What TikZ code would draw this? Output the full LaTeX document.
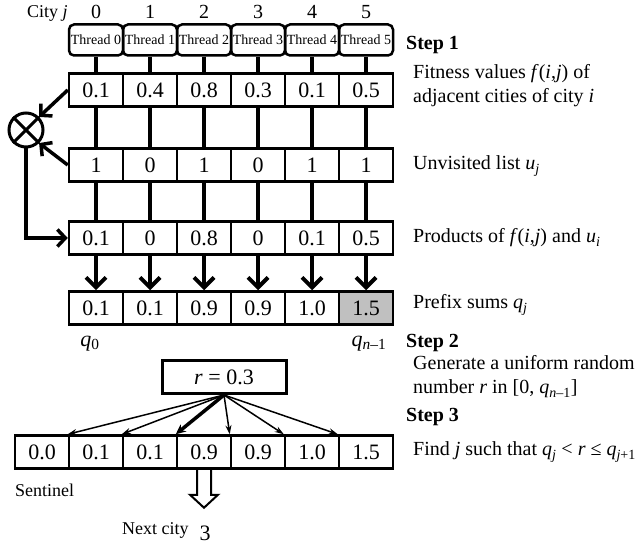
\documentclass[tikz,border=0pt]{standalone}
\usepackage{fontspec}
\setmainfont{Liberation Serif}
\usepackage{tikz}
\usetikzlibrary{positioning,arrows.meta}
\definecolor{lastcell}{RGB}{192, 192, 192}
\newcommand{\qv}[1]{\textit{q}\textsubscript{#1}}
\newcommand{\fij}{\textit{f}(\textit{i},\textit{j})}
\tikzset{
  cell/.style={draw, line width=2.5pt, minimum width=54pt, minimum height=33pt, inner sep=0pt, font=\fontsize{22}{24}\selectfont},
  thread/.style={draw, line width=2.5pt, rounded corners=5pt, minimum width=54pt, minimum height=31pt, inner sep=0pt, font=\fontsize{14}{15}\selectfont},
  link/.style={line width=4pt},
  bigarrow/.style={line width=4pt, -{Straight Barb[length=10pt,width=20pt]}},
  sidearrow/.style={line width=3.5pt, -{Straight Barb[length=8pt,width=17pt]}},
  fan/.style={line width=1.5pt, -{Stealth[length=9pt,width=6pt]}},
  fanbold/.style={line width=3.5pt, -{Stealth[length=10pt,width=9pt]}},
  desc/.style={anchor=west, inner sep=0pt, align=left, font=\fontsize{20}{24}\selectfont},
  small/.style={inner sep=0pt, font=\fontsize{18}{20}\selectfont},
}

\begin{document}
\begin{tikzpicture}[x=1pt, y=-1pt]
        \useasboundingbox (0,0) rectangle (638,548);

        % columns and threads
        \node[small, anchor=west] (cityj) at (27,13) {City \textit{j}};
        \foreach \k in {0,...,5} {
            \node[inner sep=0pt, font=\fontsize{20}{22}\selectfont] (c\k) at ({96+54*\k},12) {\k};
            \node[thread] (t\k) at ({96+54*\k},40) {Thread \k};
        }

        \foreach \val [count=\k from 0] in {0.1,0.4,0.8,0.3,0.1,0.5}
            \node[cell] (f\k) at ({96+54*\k},90) {\val};
        \foreach \val [count=\k from 0] in {1,0,1,0,1,1}
            \node[cell] (u\k) at ({96+54*\k},165) {\val};
        \foreach \val [count=\k from 0] in {0.1,0,0.8,0,0.1,0.5}
            \node[cell] (p\k) at ({96+54*\k},238) {\val};
        \foreach \val/\shade [count=\k from 0] in {0.1/white,0.1/white,0.9/white,0.9/white,1.0/white,1.5/lastcell}
            \node[cell, fill=\shade] (q\k) at ({96+54*\k},308) {\val};

        \foreach \k in {0,...,5} {
            \draw[link] (t\k.south) -- (f\k.north);
            \draw[link] (f\k.south) -- (u\k.north);
            \draw[link] (u\k.south) -- (p\k.north);
            \draw[bigarrow] (p\k.south) -- (q\k.north);
        }

        % multiply
        \node[draw, circle, line width=3pt, minimum size=34pt, inner sep=0pt] (mult) at (26,130) {};
        \draw[line width=3pt] (mult.north west) -- (mult.south east) (mult.north east) -- (mult.south west);
        \draw[sidearrow] (f0.west) -- (mult.north east);
        \draw[sidearrow] (u0.west) -- (mult.south east);
        \draw[sidearrow] (mult.south) |- (p0.west);

        \node[inner sep=0pt, font=\fontsize{22}{24}\selectfont] (qlow) at (90,344) {\qv{0}};
        \node[inner sep=0pt, font=\fontsize{22}{24}\selectfont] (qhigh) at (369,344) {\qv{\textit{n}–1}};

        % random number and search
        \node[draw, line width=3pt, minimum width=124pt, minimum height=33pt, inner sep=0pt, font=\fontsize{22}{24}\selectfont] (rbox) at (224,377) {\textit{r} = 0.3};
        \foreach \val [count=\k from 0] in {0.0,0.1,0.1,0.9,0.9,1.0,1.5}
            \node[cell] (s\k) at ({42+54*\k},452) {\val};
        \foreach \k in {1,2,4,5,6}
            \draw[fan] (rbox.south) -- (s\k.north west);
        \draw[fanbold] (rbox.south) -- (s3.north west);

        \draw[line width=2pt] ([xshift=-7pt]s3.south) -- ++(0,25) -- ++(-7,0) -- ++(14,13) -- ++(14,-13) -- ++(-7,0) -- ++(0,-25);

        \node[small, anchor=west] (sentinel) at (15,490) {Sentinel};
        \node[small, anchor=west] (nextcity) at (122,530) {Next city};
        \node[inner sep=0pt, font=\fontsize{22}{24}\selectfont] (nextval) at (205,533) {3};

        % steps
        \node[desc, font=\fontsize{20}{24}\selectfont\bfseries] (step1) at (406,45) {Step 1};
        \node[desc] (fit) at (413,86) {Fitness values \fij{} of\\adjacent cities of city \textit{i}};
        \node[desc] (unv) at (413,166) {Unvisited list \textit{u}\textsubscript{\textit{j}}};
        \node[desc] (prod) at (413,238) {Products of \fij{} and \textit{u}\textsubscript{\textit{i}}};
        \node[desc] (pref) at (413,305) {Prefix sums \qv{\textit{j}}};
        \node[desc, font=\fontsize{20}{24}\selectfont\bfseries] (step2) at (406,343) {Step 2};
        \node[desc] (gen) at (413,377) {Generate a uniform random\\number \textit{r} in [0, \qv{\textit{n}–1}]};
        \node[desc, font=\fontsize{20}{24}\selectfont\bfseries] (step3) at (406,417) {Step 3};
        \node[desc] (find) at (413,452) {Find \textit{j} such that \qv{\textit{j}} < \textit{r} ≤ \qv{\textit{j}+1}};

    \end{tikzpicture}
\end{document}
